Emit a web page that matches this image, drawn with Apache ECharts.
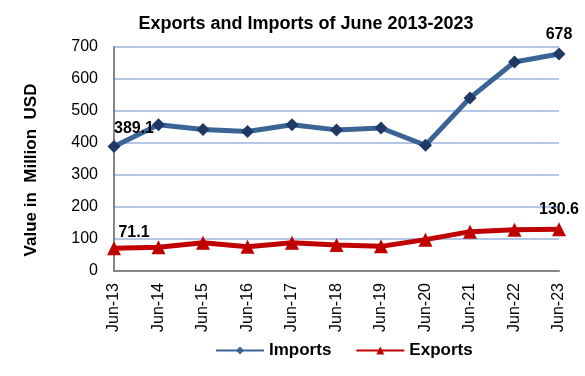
<!DOCTYPE html>
<html><head><meta charset="utf-8">
<script src="https://cdn.jsdelivr.net/npm/echarts@6/dist/echarts.min.js"></script>
<style>html,body{margin:0;padding:0;background:#fff}#c{width:585px;height:376px}</style>
</head><body><div id="c"></div>
<script>
const categories = ['Jun-13','Jun-14','Jun-15','Jun-16','Jun-17','Jun-18','Jun-19','Jun-20','Jun-21','Jun-22','Jun-23'];
const imports = [389.1, 457, 442, 436, 457, 441, 447, 393, 541, 653, 678];
const exports = [71.1, 74, 88, 76, 88, 81, 77, 98, 123, 129, 130.6];
const yTicks = [0, 100, 200, 300, 400, 500, 600, 700];
const importLabels = {0: '389.1', 10: '678'};
const exportLabels = {0: '71.1', 10: '130.6'};

const chart = echarts.init(document.getElementById('c'));
const font = 'Arial, "Liberation Sans", sans-serif';
function mk(vals, labels, offsets) {
  return vals.map((v, i) => labels[i] !== undefined ? {
    value: v,
    label: {show: true, formatter: labels[i], position: 'top', offset: offsets[i]}
  } : v);
}
chart.setOption({
  animation: false,
  title: {text: 'Exports and Imports of June 2013-2023', left: 301, top: 10, textAlign: 'center',
    textStyle: {fontFamily: font, fontSize: 18, fontWeight: 'bold', color: '#000'}},
  grid: {left: 114, right: 26, top: 47, bottom: 105},
  legend: {bottom: 12, left: 210, itemGap: 24, itemWidth: 48, itemHeight: 10,
    textStyle: {fontFamily: font, fontSize: 17, fontWeight: 'bold', color: '#000'},
    data: [{name: 'Imports', itemStyle: {color: '#3b6496'}}, {name: 'Exports', itemStyle: {color: '#c00000'}}]},
  xAxis: {type: 'category', data: categories, boundaryGap: false,
    axisLine: {lineStyle: {color: '#868686', width: 2}}, axisTick: {show: false},
    axisLabel: {rotate: 90, fontFamily: font, fontSize: 16, color: '#000', margin: 12}},
  yAxis: {type: 'value', min: yTicks[0], max: yTicks[yTicks.length - 1], interval: 100,
    name: 'Value in  Million  USD', nameLocation: 'middle', nameGap: 74, nameRotate: 90,
    nameTextStyle: {fontFamily: font, fontSize: 17, fontWeight: 'bold', color: '#000', padding: [0, 22, 0, 0]},
    axisLine: {show: true, lineStyle: {color: '#868686', width: 2}}, axisTick: {show: false},
    axisLabel: {fontFamily: font, fontSize: 16, color: '#000', margin: 16},
    splitLine: {lineStyle: {color: '#b4c7e7', width: 2}}},
  series: [
    {name: 'Imports', type: 'line', data: mk(imports, importLabels, {0: [20, 2], 10: [0, 0]}),
      symbol: 'diamond', symbolSize: 13,
      lineStyle: {color: '#3b6496', width: 5}, itemStyle: {color: '#1f3864'},
      label: {fontFamily: font, fontSize: 16, fontWeight: 'bold', color: '#000'}},
    {name: 'Exports', type: 'line', data: mk(exports, exportLabels, {0: [20, 4], 10: [0, 0]}),
      symbol: 'triangle', symbolSize: 14,
      lineStyle: {color: '#c00000', width: 5}, itemStyle: {color: '#c00000'},
      label: {fontFamily: font, fontSize: 16, fontWeight: 'bold', color: '#000'}}
  ]
});
</script></body></html>
